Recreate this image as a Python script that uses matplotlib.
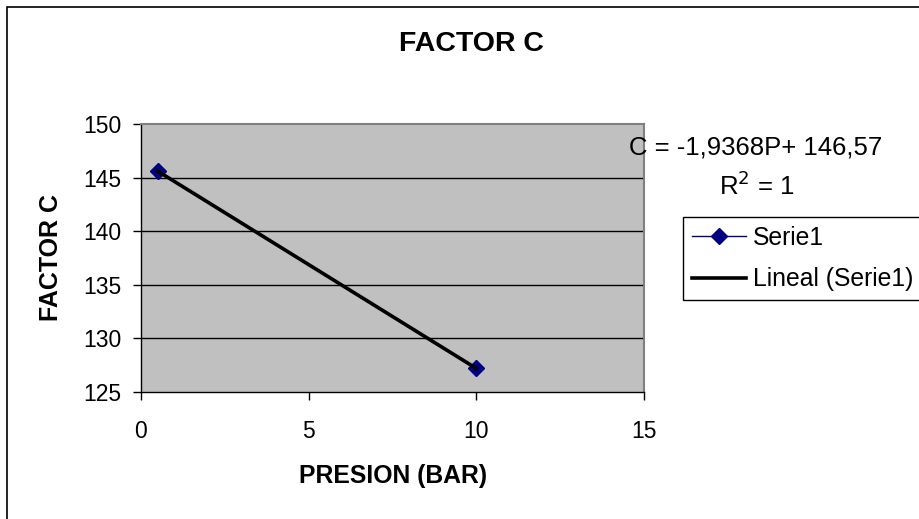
import numpy as np
import matplotlib
matplotlib.use("Agg")
import matplotlib.pyplot as plt
from matplotlib.lines import Line2D
from matplotlib.patches import Rectangle

plt.rcParams['font.family'] = ['Liberation Sans', 'DejaVu Sans']

# Measured data
presion = [0.5, 10.0]
factor_c = [145.6, 127.2]
x_ticks = [0, 5, 10, 15]
y_ticks = [125, 130, 135, 140, 145, 150]

W, H = 920, 519
fig = plt.figure(figsize=(W / 100, H / 100), dpi=100)

# Chart border (left and top edges visible, the rest runs off the canvas)
fig.patches.append(Rectangle((7 / W, -0.05), 1.2, 1 - 6.5 / H + 0.05,
                             transform=fig.transFigure, fill=False,
                             edgecolor='black', linewidth=1.2))

ax = fig.add_axes([141 / W, 1 - 392 / H, 503 / W, 268 / H])
ax.set_facecolor('#C0C0C0')
ax.set_xlim(0, 15)
ax.set_ylim(125, 150)
ax.set_xticks(x_ticks)
ax.set_yticks(y_ticks)

for s in ['top', 'right']:
    ax.spines[s].set_color('#808080')
    ax.spines[s].set_linewidth(1.5)
for s in ['left', 'bottom']:
    ax.spines[s].set_color('black')
    ax.spines[s].set_linewidth(1.0)

for yv in y_ticks[1:-1]:
    ax.axhline(yv, color='black', linewidth=1.0, zorder=1)

ax.tick_params(axis='both', direction='out', length=6, width=1, colors='black',
               labelsize=16.5)
ax.tick_params(axis='y', pad=8)
ax.tick_params(axis='x', pad=14)

# Linear trend fit
coef = np.polyfit(presion, factor_c, 1)
xfit = np.array([min(presion), max(presion)])
yfit = np.polyval(coef, xfit)

ax.plot(presion, factor_c, color='#000080', linewidth=1, marker='D',
        markersize=8.5, markerfacecolor='#000080', markeredgecolor='#000080',
        zorder=3)
ax.plot(xfit, yfit, color='black', linewidth=2.6, zorder=4)

# Titles
fig.text(471 / W, 1 - 44 / H, 'FACTOR C', ha='center', va='center',
         fontsize=20.5, fontweight='bold')
fig.text(393 / W, 1 - 476 / H, 'PRESION (BAR)', ha='center', va='center',
         fontsize=17.8, fontweight='bold')
fig.text(51 / W, 1 - 257 / H, 'FACTOR C', ha='center', va='center',
         rotation=90, fontsize=18, fontweight='bold')

# Trendline equation
fig.text(756 / W, 1 - 148 / H, 'C = -1,9368P+ 146,57', ha='center', va='center',
         fontsize=18.5)
fig.text(757 / W, 1 - 186 / H, r'R$^{2}$ = 1', ha='center', va='center',
         fontsize=18.5)

handles = [
    Line2D([], [], color='#000080', linewidth=1, marker='D', markersize=8.5,
           markerfacecolor='#000080', markeredgecolor='#000080'),
    Line2D([], [], color='black', linewidth=2.6),
]
leg = fig.legend(handles, ['Serie1', 'Lineal (Serie1)'], loc='upper left',
                 bbox_to_anchor=(683 / W, 1 - 217 / H), fontsize=17.8,
                 frameon=True, fancybox=False, handlelength=2.2,
                 handletextpad=0.27, borderpad=0.35, labelspacing=0.72,
                 borderaxespad=0)
leg.get_frame().set_edgecolor('black')
leg.get_frame().set_linewidth(1.0)
leg.get_frame().set_alpha(1)

fig.savefig('out.png', dpi=100)
